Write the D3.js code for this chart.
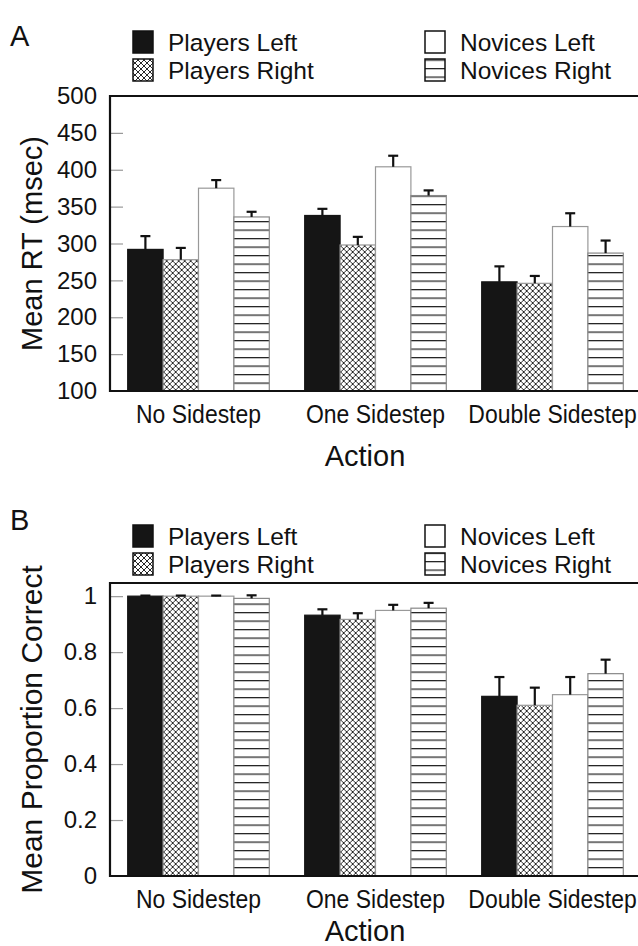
<!DOCTYPE html>
<html>
<head>
<meta charset="utf-8">
<script src="https://cdn.jsdelivr.net/npm/d3@7"></script>
<style>
  html, body { margin: 0; padding: 0; background: #fff; }
  svg { display: block; }
  text { font-family: "Liberation Sans", Arial, Helvetica, sans-serif; fill: #111; }
</style>
</head>
<body>
<svg id="fig" width="638" height="946"></svg>
<script>
// Conditions on the x axis and the four groups drawn in each cluster
const actions = ["No Sidestep", "One Sidestep", "Double Sidestep"];
const groups = ["Players Left", "Players Right", "Novices Left", "Novices Right"];

// Panel A: mean reaction time (msec) and error (SE) per action x group
const rtMeans = [
  [292, 278, 375, 336],
  [338, 298, 404, 365],
  [248, 246, 323, 287]
];
const rtErrors = [
  [18, 16, 11, 7],
  [9, 11, 15, 7],
  [21, 10, 18, 17]
];
const rtTicks = [100, 150, 200, 250, 300, 350, 400, 450, 500];

// Panel B: mean proportion correct and error per action x group
const pcMeans = [
  [1.0, 1.0, 1.0, 0.992],
  [0.932, 0.917, 0.949, 0.957],
  [0.642, 0.610, 0.648, 0.723]
];
const pcErrors = [
  [0.002, 0.002, 0.002, 0.011],
  [0.021, 0.022, 0.020, 0.019],
  [0.069, 0.063, 0.063, 0.050]
];
const pcTicks = [0, 0.2, 0.4, 0.6, 0.8, 1];

const svg = d3.select("#fig");
const W = 638;
const ink = "#111";

// Fill patterns: cross-hatch and horizontal rules
const defs = svg.append("defs");
const hatch = defs.append("pattern")
  .attr("id", "crosshatch")
  .attr("patternUnits", "userSpaceOnUse")
  .attr("width", 6).attr("height", 6);
hatch.append("rect").attr("width", 6).attr("height", 6).attr("fill", "#fff");
hatch.append("path").attr("d", "M0,0 L6,6 M6,0 L0,6 M-1,5 L1,7 M5,-1 L7,1 M-1,1 L1,-1 M5,7 L7,5")
  .attr("stroke", ink).attr("stroke-width", 0.9).attr("fill", "none");

const rules = defs.append("pattern")
  .attr("id", "hrules")
  .attr("patternUnits", "userSpaceOnUse")
  .attr("width", 10).attr("height", 8.5);
rules.append("rect").attr("width", 10).attr("height", 8.5).attr("fill", "#fff");
rules.append("line").attr("x1", 0).attr("x2", 10).attr("y1", 0.6).attr("y2", 0.6)
  .attr("stroke", "#222").attr("stroke-width", 1.3);

const fills = ["#151515", "url(#crosshatch)", "#fff", "url(#hrules)"];
const strokes = ["#151515", "#999", "#999", "#888"];

function drawPanel(opts) {
  const g = svg.append("g");
  const { top, bottom, left, domain, ticks, means, errors, letter, letterY, legendY,
          yTitle, yTitleSize, actionY, fmt } = opts;

  const x0 = d3.scaleBand().domain(actions).range([left, 641]).paddingInner(0.2).paddingOuter(0.1);
  const x1 = d3.scaleBand().domain(groups).range([0, x0.bandwidth()]);
  const y = d3.scaleLinear().domain(domain).range([bottom, top]);

  // Panel letter
  g.append("text").attr("x", 10).attr("y", letterY)
    .attr("font-size", 29).text(letter);

  // Legend: two columns of two rows
  const legendCols = [133, 425];
  groups.forEach((name, i) => {
    const col = Math.floor(i / 2), row = i % 2;
    const lx = legendCols[col], ly = legendY + row * 28;
    g.append("rect").attr("x", lx).attr("y", ly).attr("width", 20).attr("height", 22)
      .attr("fill", fills[i]).attr("stroke", ink).attr("stroke-width", 1.5);
    g.append("text").attr("x", lx + 35).attr("y", ly + 20)
      .attr("font-size", 24.5).text(name);
  });

  // Bars
  const cluster = g.selectAll("g.cluster").data(actions).join("g")
    .attr("class", "cluster")
    .attr("transform", d => `translate(${x0(d)},0)`);
  cluster.each(function(a, ai) {
    const cg = d3.select(this);
    groups.forEach((grp, gi) => {
      const v = means[ai][gi];
      cg.append("rect")
        .attr("x", x1(grp)).attr("y", y(v))
        .attr("width", x1.bandwidth()).attr("height", y(domain[0]) - y(v))
        .attr("fill", fills[gi]).attr("stroke", strokes[gi]).attr("stroke-width", 1.2);
    });
    // Error bars (upper half only)
    groups.forEach((grp, gi) => {
      const v = means[ai][gi], e = errors[ai][gi];
      const cx = x1(grp) + x1.bandwidth() / 2;
      cg.append("line").attr("x1", cx).attr("x2", cx).attr("y1", y(v)).attr("y2", y(v + e))
        .attr("stroke", ink).attr("stroke-width", 2.2);
      cg.append("line").attr("x1", cx - 5).attr("x2", cx + 5).attr("y1", y(v + e)).attr("y2", y(v + e))
        .attr("stroke", ink).attr("stroke-width", 2.2);
    });
  });

  // Inner tick marks
  const yAxis = d3.axisRight(y).tickValues(ticks.filter(t => t !== domain[0] && y(t) > top + 2))
    .tickSize(13).tickFormat("");
  const ya = g.append("g").attr("transform", `translate(${left},0)`).call(yAxis);
  ya.select(".domain").remove();
  ya.selectAll("line").attr("stroke", "#999").attr("stroke-width", 1.2);

  // Tick labels
  const yl = d3.axisLeft(y).tickValues(ticks).tickSize(0).tickPadding(13).tickFormat(fmt);
  const yla = g.append("g").attr("transform", `translate(${left},0)`).call(yl);
  yla.select(".domain").remove();
  yla.attr("font-family", null).attr("font-size", null);
  yla.selectAll("text").attr("font-size", 24).attr("fill", ink);

  // Frame: left, top and bottom rules
  g.append("path")
    .attr("d", `M${W},${top} H${left} V${bottom} H${W}`)
    .attr("fill", "none").attr("stroke", ink).attr("stroke-width", 2.2);

  // Category labels (condensed so the longest one fits the panel)
  const xa = d3.axisBottom(x0).tickSize(0).tickPadding(14);
  const xg = g.append("g").attr("transform", `translate(0,${bottom})`).call(xa);
  xg.select(".domain").remove();
  xg.attr("font-family", null).attr("font-size", null);
  xg.selectAll("text").attr("font-size", 25.5).attr("fill", ink)
    .attr("transform", "scale(0.9,1)");

  // Axis titles
  g.append("text").attr("x", 365).attr("y", actionY)
    .attr("text-anchor", "middle").attr("font-size", 29).text("Action");
  g.append("text")
    .attr("transform", `translate(42,${(top + bottom) / 2}) rotate(-90)`)
    .attr("text-anchor", "middle").attr("font-size", yTitleSize).text(yTitle);
}

drawPanel({
  top: 96, bottom: 391, left: 110, domain: [100, 500], ticks: rtTicks,
  means: rtMeans, errors: rtErrors, letter: "A", letterY: 46, legendY: 31,
  yTitle: "Mean RT (msec)", yTitleSize: 29, actionY: 466, fmt: d3.format("d")
});

drawPanel({
  top: 583, bottom: 876, left: 110, domain: [0, 1.047], ticks: pcTicks,
  means: pcMeans, errors: pcErrors, letter: "B", letterY: 530, legendY: 525,
  yTitle: "Mean Proportion Correct", yTitleSize: 30, actionY: 941,
  fmt: d => d === 0 || d === 1 ? String(d) : d3.format(".1f")(d)
});
</script>
</body>
</html>
